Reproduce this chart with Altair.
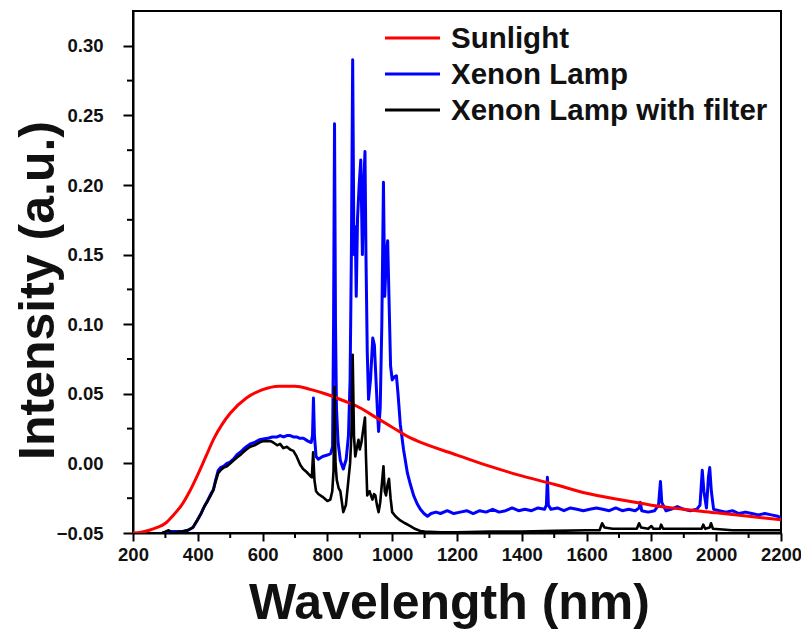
import altair as alt
import pandas as pd

# ---------------- data ----------------
sun_wl = [200, 225, 250, 275, 300, 325, 350, 375, 400, 425, 450, 475, 500, 550, 600, 650, 700, 750, 800,
          850, 900, 950, 1000, 1050, 1100, 1200, 1300, 1400, 1500, 1600, 1700, 1800, 1900, 2000, 2100, 2200]
sun_val = [-0.050, -0.0495, -0.048, -0.046, -0.043, -0.037, -0.030, -0.020, -0.008, 0.005, 0.018, 0.028,
           0.036, 0.047, 0.053, 0.0555, 0.0555, 0.053, 0.0495, 0.045, 0.040, 0.033, 0.026, 0.019, 0.014,
           0.006, -0.002, -0.009, -0.015, -0.0215, -0.026, -0.030, -0.033, -0.0355, -0.038, -0.0405]

xe_wl = [290, 320, 350, 370, 385, 398, 410, 420, 430, 440, 448, 455, 463, 470, 480, 490, 500, 510, 520,
         531, 540, 550, 562, 575, 590, 602, 615, 630, 645, 654, 665, 675, 685, 695, 705, 715, 726, 740,
         750, 754, 757, 760, 765, 772, 785, 800, 810, 816, 819, 822, 825, 828, 833, 840, 849, 858, 865,
         870, 874, 878, 882, 886, 889, 893, 898, 903, 908, 912, 916, 919, 923, 927, 933, 940, 945, 950,
         955, 958, 963, 968, 973, 977, 982, 986, 990, 995, 1000, 1006, 1013, 1018, 1025, 1035, 1047,
         1056, 1066, 1077, 1087, 1098, 1109, 1120, 1135, 1149, 1170, 1190, 1210, 1230, 1250, 1270, 1290,
         1310, 1330, 1350, 1370, 1390, 1410, 1430, 1450, 1470, 1476, 1479, 1482, 1490, 1510, 1530, 1550,
         1570, 1590, 1610, 1630, 1650, 1670, 1690, 1710, 1730, 1750, 1762, 1766, 1770, 1790, 1810, 1822,
         1828, 1832, 1845, 1860, 1880, 1900, 1920, 1940, 1950, 1957, 1962, 1970, 1976, 1980, 1985, 1992,
         2010, 2030, 2050, 2070, 2090, 2110, 2130, 2150, 2170, 2190, 2200]
xe_val = [-0.050, -0.049, -0.049, -0.048, -0.046, -0.041, -0.036, -0.031, -0.027, -0.022, -0.019, -0.012,
          -0.005, -0.003, -0.002, 0.000, 0.001, 0.003, 0.006, 0.008, 0.010, 0.012, 0.014, 0.015, 0.017,
          0.0175, 0.018, 0.019, 0.019, 0.020, 0.019, 0.020, 0.020, 0.019, 0.019, 0.018, 0.018, 0.016,
          0.015, 0.020, 0.047, 0.020, 0.005, 0.003, 0.005, 0.006, 0.007, 0.012, 0.100, 0.244, 0.100, 0.040,
          0.015, 0.002, -0.004, 0.003, 0.020, 0.060, 0.150, 0.290, 0.150, 0.170, 0.120, 0.176, 0.200,
          0.218, 0.150, 0.200, 0.224, 0.150, 0.080, 0.046, 0.060, 0.090, 0.085, 0.060, 0.035, 0.023, 0.040,
          0.100, 0.202, 0.120, 0.150, 0.160, 0.120, 0.070, 0.060, 0.062, 0.063, 0.050, 0.028, 0.010,
          -0.007, -0.015, -0.023, -0.029, -0.033, -0.036, -0.038, -0.036, -0.035, -0.036, -0.034, -0.036,
          -0.035, -0.034, -0.036, -0.034, -0.035, -0.033, -0.035, -0.034, -0.032, -0.034, -0.033, -0.034,
          -0.032, -0.033, -0.030, -0.010, -0.030, -0.033, -0.032, -0.034, -0.032, -0.033, -0.034, -0.033,
          -0.032, -0.033, -0.034, -0.032, -0.034, -0.033, -0.034, -0.032, -0.028, -0.034, -0.035, -0.034,
          -0.030, -0.013, -0.028, -0.034, -0.033, -0.031, -0.033, -0.034, -0.033, -0.030, -0.005, -0.020,
          -0.032, -0.010, -0.003, -0.020, -0.033, -0.034, -0.035, -0.034, -0.036, -0.035, -0.036, -0.037,
          -0.036, -0.037, -0.038, -0.039]

flt_wl = [290, 300, 310, 320, 350, 370, 385, 398, 410, 420, 430, 440, 448, 455, 463, 470, 480, 490, 500,
          510, 520, 531, 540, 550, 562, 575, 590, 602, 615, 625, 633, 645, 654, 664, 675, 685, 695, 705,
          716, 725, 735, 747, 752, 756, 760, 765, 772, 785, 800, 809, 815, 819, 822, 825, 829, 835, 840,
          849, 857, 864, 870, 874, 878, 882, 886, 890, 896, 900, 905, 911, 916, 919, 923, 930, 939, 944,
          948, 953, 958, 963, 968, 973, 977, 981, 986, 990, 995, 1000, 1010, 1025, 1040, 1056, 1070, 1087,
          1100, 1150, 1200, 1300, 1400, 1500, 1600, 1640, 1648, 1655, 1680, 1720, 1755, 1762, 1768, 1790,
          1800, 1806, 1826, 1830, 1836, 1880, 1920, 1955, 1960, 1966, 1980, 1984, 1990, 2050, 2100, 2150,
          2200]
flt_val = [-0.050, -0.049, -0.048, -0.050, -0.049, -0.048, -0.046, -0.041, -0.036, -0.031, -0.027,
           -0.023, -0.019, -0.013, -0.007, -0.005, -0.003, -0.002, 0.000, 0.002, 0.004, 0.006, 0.008,
           0.010, 0.012, 0.013, 0.015, 0.016, 0.016, 0.016, 0.015, 0.013, 0.014, 0.011, 0.012, 0.010,
           0.009, 0.005, -0.001, -0.004, -0.006, -0.009, -0.010, 0.008, -0.012, -0.020, -0.022, -0.024,
           -0.027, -0.026, -0.020, -0.005, 0.055, 0.000, -0.012, -0.018, -0.020, -0.035, -0.030, -0.014,
           0.000, 0.020, 0.078, 0.020, 0.005, 0.010, 0.017, 0.010, 0.015, 0.025, 0.033, 0.005, -0.023,
           -0.020, -0.026, -0.022, -0.023, -0.030, -0.035, -0.028, -0.015, -0.002, -0.020, -0.023, -0.015,
           -0.011, -0.025, -0.035, -0.038, -0.041, -0.043, -0.045, -0.047, -0.0485, -0.049, -0.0495,
           -0.0495, -0.049, -0.049, -0.0485, -0.048, -0.048, -0.043, -0.046, -0.047, -0.047, -0.047,
           -0.043, -0.046, -0.047, -0.045, -0.047, -0.047, -0.044, -0.047, -0.047, -0.047, -0.047, -0.044,
           -0.047, -0.046, -0.043, -0.047, -0.048, -0.048, -0.048, -0.048]

series_names = ["Sunlight", "Xenon Lamp", "Xenon Lamp with filter"]
series_colors = ["#ff0000", "#0000ff", "#000000"]
x_major = [200, 400, 600, 800, 1000, 1200, 1400, 1600, 1800, 2000, 2200]
x_minor = [300, 500, 700, 900, 1100, 1300, 1500, 1700, 1900, 2100]
y_major = [-0.05, 0.0, 0.05, 0.10, 0.15, 0.20, 0.25, 0.30]
y_minor = [-0.025, 0.025, 0.075, 0.125, 0.175, 0.225, 0.275]

# ---------------- chart ----------------
W, H = 648, 522
xs = alt.Scale(domain=[200, 2200], nice=False, zero=False)
ys = alt.Scale(domain=[-0.05, 0.325], nice=False, zero=False)

x_enc = alt.X("wl:Q", scale=xs, title="Wavelength (nm)",
              axis=alt.Axis(values=x_major, format="d", labelPadding=4, labelOverlap=False,
                            labelFlush=False,
                            titleX=W / 2 - 8, titleY=70, titleBaseline="middle"))
y_enc = alt.Y("v:Q", scale=ys, title="Intensity (a.u.)",
              axis=alt.Axis(values=y_major, format=".2f", labelPadding=20, labelOverlap=False,
                            labelFlush=False, tickSize=10,
                            titleX=-95, titleY=H / 2 + 18, titleBaseline="middle"))


def series_layer(wl, val, color, width, interp="linear"):
    d = pd.DataFrame({"wl": wl, "v": val})
    return alt.Chart(d).mark_line(color=color, strokeWidth=width, clip=True,
                                  strokeJoin="round", interpolate=interp).encode(x=x_enc, y=y_enc)


blue = series_layer(xe_wl, xe_val, series_colors[1], 3)
red = series_layer(sun_wl, sun_val, series_colors[0], 3, "monotone")
black = series_layer(flt_wl, flt_val, series_colors[2], 2.6)

minor_x = alt.Chart(pd.DataFrame({"wl": x_minor})).mark_rule(color="black", strokeWidth=2).encode(
    x=alt.X("wl:Q", scale=xs), y=alt.value(H), y2=alt.value(H + 5))
minor_y = alt.Chart(pd.DataFrame({"v": y_minor})).mark_rule(color="black", strokeWidth=2).encode(
    y=alt.Y("v:Q", scale=ys), x=alt.value(0), x2=alt.value(-6))

# legend (drawn inside the frame, top right)
leg_layers = []
for i, (name, col) in enumerate(zip(series_names, series_colors)):
    yy = 27 + 36 * i
    leg_layers.append(alt.Chart(pd.DataFrame({"s": [name]})).mark_rule(color=col, strokeWidth=3).encode(
        x=alt.value(252), x2=alt.value(307), y=alt.value(yy)))
    leg_layers.append(alt.Chart(pd.DataFrame({"s": [name]})).mark_text(
        align="left", baseline="middle", font="Liberation Sans", fontWeight="bold", fontSize=29.5,
        color="#111111").encode(x=alt.value(318), y=alt.value(yy + 1), text="s:N"))

chart = alt.layer(blue, red, black, minor_x, minor_y, *leg_layers).properties(
    width=W, height=H, background="white",
    autosize=alt.AutoSizeParams(type="none"),
    padding={"left": 125, "top": 3, "right": 20, "bottom": 100},
).configure_view(stroke="black", strokeWidth=2).configure_axis(
    grid=False, domainColor="black", domainWidth=2, tickColor="black", tickWidth=2, tickSize=8,
    labelFont="Liberation Sans", labelFontWeight="bold", labelFontSize=18.5, labelColor="#111111",
    titleFont="Liberation Sans", titleFontWeight="bold", titleFontSize=50, titleColor="#111111",
)

chart.save("out.html", embed_options={"renderer": "svg", "actions": False})
